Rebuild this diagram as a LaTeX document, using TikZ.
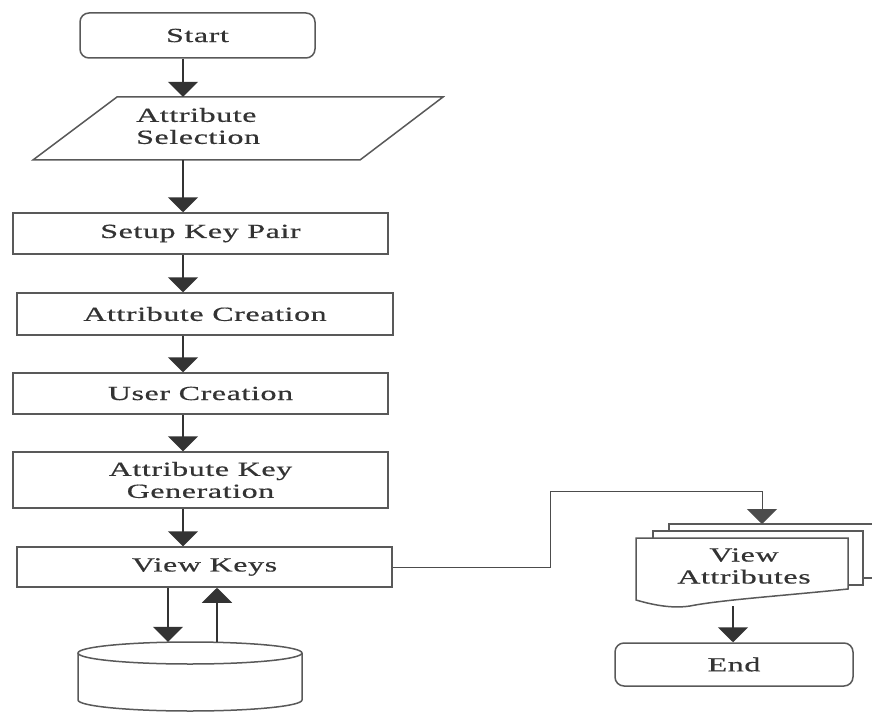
\documentclass[tikz,border=0pt]{standalone}
\usepackage{fontspec}
\setmainfont{Liberation Serif}[FakeStretch=1.6,LetterSpace=3,FakeBold=0.6]
\usetikzlibrary{arrows.meta}
\begin{document}
\begin{tikzpicture}[x=1pt,y=-1pt,
  lab/.style={text=black!80,font=\fontsize{20}{22}\selectfont,inner sep=0pt},
  procbox/.style={draw=black!65,line width=1.5pt,inner sep=0pt,align=center,
    text=black!80,font=\fontsize{20}{22}\selectfont},
  termbox/.style={procbox,rounded corners=9pt},
  outline/.style={draw=black!65,line width=1.5pt,fill=white,line join=miter},
  arr/.style={draw=black!80,line width=1.5pt,-{Triangle[width=30pt,length=15pt]}},
  thinarr/.style={draw=black!70,line width=1pt,-{Triangle[width=30pt,length=15pt]}}]
\useasboundingbox (0,0) rectangle (872,714);
\clip (0,0) rectangle (872,714);

% nodes of the main column
\node[termbox,minimum width=235pt,minimum height=45pt] (start) at (197.5,35.5) {Start};
\node[inner sep=0pt,minimum width=410pt,minimum height=63pt] (para) at (238,128.5) {};
\draw[outline] (117,97) -- (443,97) -- (360,160) -- (33,160) -- cycle;
\node[lab,align=left,anchor=west] (paratext) at (136,126) {Attribute\\Selection};
\node[procbox,minimum width=375pt,minimum height=41pt] (setup) at (200.5,233.5) {Setup Key Pair};
\node[procbox,minimum width=376pt,minimum height=42pt] (attrc) at (205,314) {Attribute Creation};
\node[procbox,minimum width=375pt,minimum height=41pt] (user) at (200.5,393.5) {User Creation};
\node[procbox,minimum width=375pt,minimum height=56pt] (akg) at (200.5,480) {Attribute Key\\Generation};
\node[procbox,minimum width=375pt,minimum height=40pt] (vk) at (204.5,567) {View Keys};

% database
\node[inner sep=0pt,minimum width=224pt,minimum height=68pt] (db) at (190,676) {};
\draw[outline] (78,653) -- (78,700) arc[start angle=180,end angle=0,x radius=112,y radius=11]
  -- (302,653);
\draw[outline] (190,653) ellipse[x radius=112,y radius=11];

% multi-document
\draw[outline] (669,524) rectangle (890,578);
\draw[outline] (653,531) rectangle (863,585);
\draw[outline] (636,538) -- (848,538) -- (848,589)
  .. controls (780,596) and (720,600) .. (690,606)
  .. controls (670,609) and (650,604) .. (636,600) -- cycle;
\node[lab,align=center] (doc) at (744,566) {View\\Attributes};
\node[termbox,minimum width=238pt,minimum height=43pt] (end) at (734,664.5) {End};

% coordinates for connectors
\coordinate (ax) at (183,0);
\coordinate (dx1) at (168,0);
\coordinate (dx2) at (217,0);
\coordinate (c1) at (550,491);
\coordinate (doctop) at (762,524);
\coordinate (docb) at (733,606);

% connectors
\draw[arr] (start.south -| ax) -- (para.north -| ax);
\draw[arr] (para.south -| ax) -- (setup.north -| ax);
\draw[arr] (setup.south -| ax) -- (attrc.north -| ax);
\draw[arr] (attrc.south -| ax) -- (user.north -| ax);
\draw[arr] (user.south -| ax) -- (akg.north -| ax);
\draw[arr] (akg.south -| ax) -- (vk.north -| ax);
\draw[arr] (vk.south -| dx1) -- (db.north -| dx1);
\draw[arr] (db.north -| dx2) -- (vk.south -| dx2);
\draw[thinarr] (vk.east) -| (c1) -| (doctop);
\draw[arr] (docb) -- (end.north -| docb);
\end{tikzpicture}
\end{document}
